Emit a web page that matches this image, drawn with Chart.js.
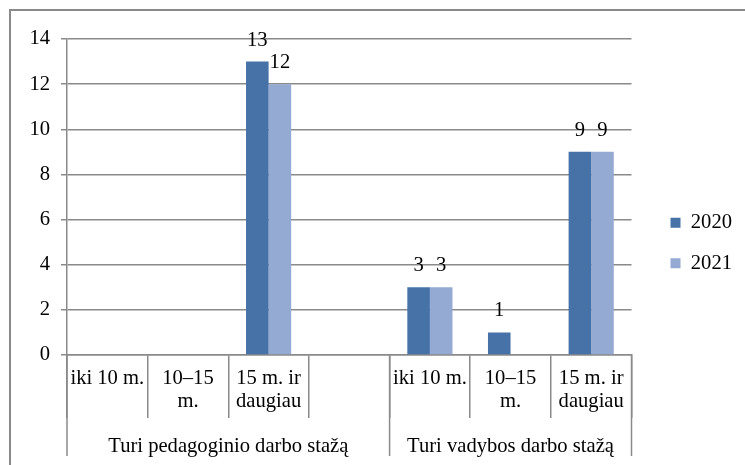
<!DOCTYPE html>
<html>
<head>
<meta charset="utf-8">
<script src="https://cdn.jsdelivr.net/npm/chart.js@4/dist/chart.umd.min.js"></script>
<style>
  html, body { margin: 0; padding: 0; background: #ffffff; }
  #wrap { width: 745px; height: 465px; position: relative; }
</style>
</head>
<body>
<div id="wrap"><canvas id="c" width="745" height="465"></canvas></div>
<script>
const categories = ['iki 10 m.', ['10–15', 'm.'], ['15 m. ir', 'daugiau'], '', 'iki 10 m.', ['10–15', 'm.'], ['15 m. ir', 'daugiau']];
const groups = ['Turi pedagoginio darbo stažą', 'Turi vadybos darbo stažą'];
const groupSpans = [[0, 3], [4, 6]];
const seriesNames = ['2020', '2021'];
const values2020 = [null, null, 13, null, 3, 1, 9];
const values2021 = [null, null, 12, null, 3, null, 9];
const yTicks = [0, 2, 4, 6, 8, 10, 12, 14];

const GRID = '#8a8a8a';
const FONT = 'Liberation Serif, "Times New Roman", serif';
const FS = 20.6;
Chart.defaults.font.family = FONT;
Chart.defaults.font.size = FS;
Chart.defaults.color = '#000';

const decor = {
  id: 'decor',
  beforeDraw(chart) {
    const ctx = chart.ctx;
    ctx.save();
    ctx.fillStyle = '#fff';
    ctx.fillRect(0, 0, chart.width, chart.height);
    ctx.strokeStyle = GRID;
    ctx.lineWidth = 2;
    ctx.strokeRect(10, 10, chart.width + 20, chart.height + 20);
    ctx.restore();
  },
  afterDraw(chart) {
    const ctx = chart.ctx;
    const xs = chart.scales.x;
    const half = xs.width / categories.length / 2;
    const top = chart.chartArea.bottom;
    ctx.save();
    ctx.strokeStyle = GRID;
    ctx.lineWidth = 1.5;
    const bounds = new Set();
    groupSpans.forEach(([a, b]) => {
      bounds.add(xs.getPixelForValue(a) - half);
      bounds.add(xs.getPixelForValue(b) + half);
    });
    bounds.forEach(x => {
      ctx.beginPath();
      ctx.moveTo(x, top);
      ctx.lineTo(x, top + 101);
      ctx.stroke();
    });
    ctx.fillStyle = '#000';
    ctx.font = FS + 'px ' + FONT;
    ctx.textAlign = 'center';
    ctx.textBaseline = 'middle';
    groupSpans.forEach(([a, b], i) => {
      const x1 = xs.getPixelForValue(a) - half;
      const x2 = xs.getPixelForValue(b) + half;
      ctx.fillText(groups[i], (x1 + x2) / 2, top + 92);
    });
    ctx.restore();
  },
  afterDatasetsDraw(chart) {
    const ctx = chart.ctx;
    ctx.save();
    ctx.fillStyle = '#000';
    ctx.font = FS + 'px ' + FONT;
    ctx.textAlign = 'center';
    ctx.textBaseline = 'alphabetic';
    chart.data.datasets.forEach((ds, di) => {
      const meta = chart.getDatasetMeta(di);
      meta.data.forEach((el, i) => {
        const v = ds.data[i];
        if (v === null || v === undefined) return;
        ctx.fillText(String(v), el.x, el.y - 16);
      });
    });
    ctx.restore();
  }
};

new Chart(document.getElementById('c'), {
  type: 'bar',
  data: {
    labels: categories,
    datasets: [
      { label: seriesNames[0], data: values2020, backgroundColor: '#4672A8' },
      { label: seriesNames[1], data: values2021, backgroundColor: '#95AAD3' }
    ]
  },
  options: {
    responsive: false,
    animation: false,
    events: [],
    layout: { padding: { left: 10, top: 39, right: 3, bottom: 18 } },
    datasets: { bar: { categoryPercentage: 0.56, barPercentage: 1.0 } },
    scales: {
      x: {
        offset: true,
        grid: { offset: true, drawOnChartArea: false, drawTicks: true, tickLength: 63, color: GRID, lineWidth: 1.5 },
        border: { display: true, color: GRID, width: 1.5 },
        ticks: { padding: -51, maxRotation: 0, autoSkip: false, font: { size: FS, lineHeight: 1.12 }, color: '#000' },
        afterFit(s) { s.height = 92; }
      },
      y: {
        min: 0, max: 14,
        afterBuildTicks(s) { s.ticks = yTicks.map(v => ({ value: v })); },
        grid: { color: GRID, lineWidth: 1.5, tickLength: 6 },
        border: { display: true, color: GRID, width: 1.5 },
        ticks: { padding: 11, color: '#000', font: { size: FS } },
        afterFit(s) { s.width = 57; }
      },
      y2: {
        position: 'right',
        display: true,
        grid: { display: false },
        border: { display: false },
        ticks: { display: false },
        afterFit(s) { s.width = 19; }
      }
    },
    plugins: {
      legend: {
        position: 'right',
        labels: { boxWidth: 10, boxHeight: 10, padding: 20, font: { size: FS }, color: '#000' }
      },
      tooltip: { enabled: false }
    }
  },
  plugins: [decor]
});
</script>
</body>
</html>
